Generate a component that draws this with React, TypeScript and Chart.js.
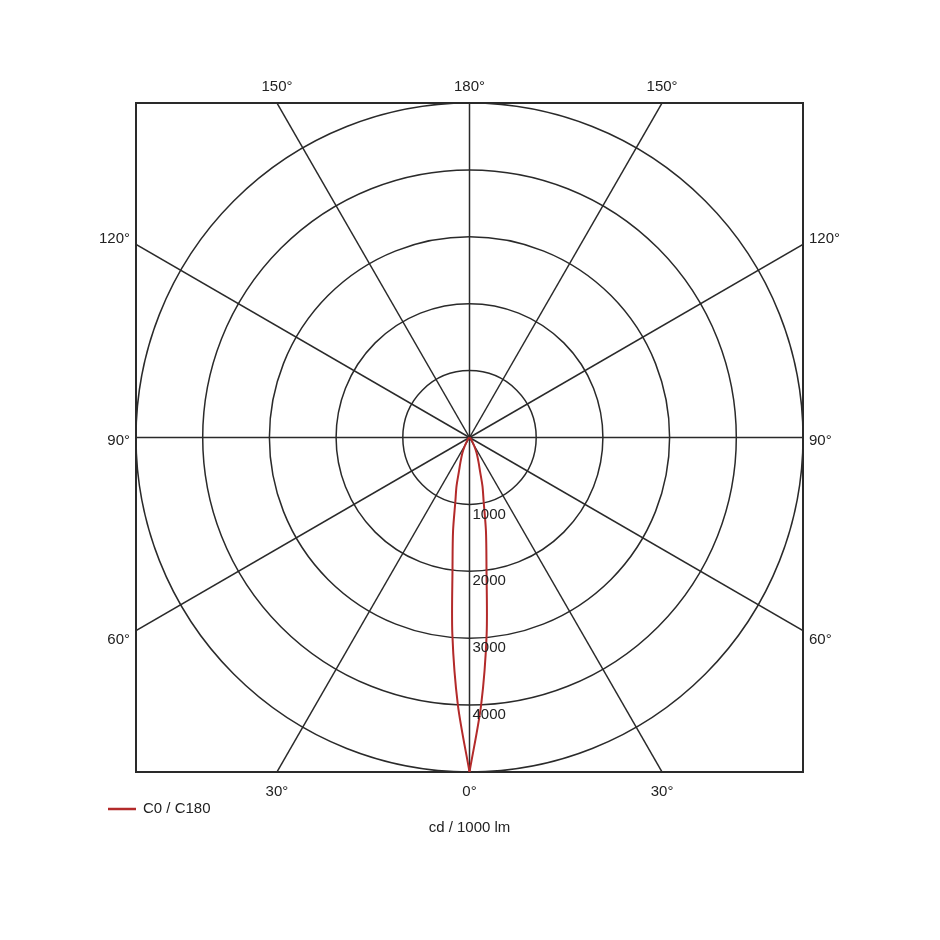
import React, { useEffect, useRef } from "react";
import { Chart, registerables } from "chart.js";

Chart.register(...registerables);

// Gamma angles (degrees from nadir) and luminous intensity (cd / 1000 lm)
const gammaAngles = [0, 2.5, 5, 7.5, 10, 12.5, 15, 17.5, 20, 25, 30, 35, 40, 50, 60, 70, 80, 90];
const intensityC0 = [5000, 4000, 2950, 1950, 1420, 980, 750, 520, 400, 250, 130, 70, 40, 15, 5, 0, 0, 0];
const intensityC180 = [5000, 4000, 2950, 1950, 1420, 980, 750, 520, 400, 250, 130, 70, 40, 15, 5, 0, 0, 0];

const ringValues = [1000, 2000, 3000, 4000, 5000];
const ringLabels = ["1000", "2000", "3000", "4000"];
const maxValue = 5000;

// spokes: gamma angle, side (-1 = C180 left, +1 = C0 right), label
const spokeGammas = [0, 30, 60, 90, 120, 150, 180, 30, 60, 90, 120, 150];
const spokeSides = [1, 1, 1, 1, 1, 1, 1, -1, -1, -1, -1, -1];
const spokeLabels = ["0°", "30°", "60°", "90°", "120°", "150°", "180°", "30°", "60°", "90°", "120°", "150°"];

const seriesLabel = "C0 / C180";
const unitLabel = "cd / 1000 lm";

const RED = "#b32a2a";
const GRID = "#2a2a2a";
const TEXT = "#222222";
const FONT = "15px 'Liberation Sans', Arial, sans-serif";

const toRad = (d: number) => (d * Math.PI) / 180;

function halfCurve(side: number, values: number[]) {
  // from center (90°) down to the nadir tip (0°)
  const pts: { x: number; y: number }[] = [];
  for (let i = gammaAngles.length - 1; i >= 0; i--) {
    const g = toRad(gammaAngles[i]);
    const r = values[i];
    pts.push({ x: side * r * Math.sin(g), y: -r * Math.cos(g) });
  }
  return pts;
}

const polarGrid = {
  id: "polarGrid",
  beforeDatasetsDraw(chart: any) {
    const { ctx, chartArea, scales } = chart;
    const xs = scales.x;
    const ys = scales.y;
    const cx = xs.getPixelForValue(0);
    const cy = ys.getPixelForValue(0);
    ctx.save();
    ctx.beginPath();
    ctx.rect(chartArea.left, chartArea.top, chartArea.right - chartArea.left, chartArea.bottom - chartArea.top);
    ctx.clip();
    ctx.strokeStyle = GRID;
    ctx.lineWidth = 1.5;
    ringValues.forEach((r) => {
      const rx = Math.abs(xs.getPixelForValue(r) - cx);
      const ry = Math.abs(ys.getPixelForValue(r) - cy);
      ctx.beginPath();
      ctx.ellipse(cx, cy, rx, ry, 0, 0, Math.PI * 2);
      ctx.stroke();
    });
    spokeGammas.forEach((gDeg, i) => {
      const g = toRad(gDeg);
      const side = spokeSides[i];
      const far = maxValue * 3;
      const px = xs.getPixelForValue(side * far * Math.sin(g));
      const py = ys.getPixelForValue(-far * Math.cos(g));
      ctx.beginPath();
      ctx.moveTo(cx, cy);
      ctx.lineTo(px, py);
      ctx.stroke();
    });
    ctx.restore();

    ctx.save();
    ctx.strokeStyle = GRID;
    ctx.lineWidth = 2;
    ctx.strokeRect(chartArea.left, chartArea.top, chartArea.right - chartArea.left, chartArea.bottom - chartArea.top);
    ctx.restore();
  },
  afterDraw(chart: any) {
    const { ctx, chartArea, scales } = chart;
    const xs = scales.x;
    const ys = scales.y;
    const cx = xs.getPixelForValue(0);
    ctx.save();
    ctx.font = FONT;
    ctx.fillStyle = TEXT;

    // ring value labels
    ctx.textAlign = "left";
    ctx.textBaseline = "middle";
    ringLabels.forEach((lab, i) => {
      const y = ys.getPixelForValue(-ringValues[i]);
      ctx.fillText(lab, cx + 3, y + 10);
    });

    // angle labels at frame
    spokeGammas.forEach((gDeg, i) => {
      const g = toRad(gDeg);
      const side = spokeSides[i];
      const dx = side * Math.sin(g);
      const dy = -Math.cos(g);
      const t = maxValue / Math.max(Math.abs(dx), Math.abs(dy));
      const px = xs.getPixelForValue(dx * t);
      const py = ys.getPixelForValue(dy * t);
      if (Math.abs(dy) >= Math.abs(dx) - 1e-9 && Math.abs(dx) < 0.99) {
        ctx.textAlign = "center";
        ctx.textBaseline = "middle";
        const y = dy < 0 ? chartArea.bottom + 20 : chartArea.top - 16;
        ctx.fillText(spokeLabels[i], px, y);
      } else {
        ctx.textBaseline = "middle";
        const off = Math.abs(dy) < 1e-6 ? 3 : dy < 0 ? 9 : -6;
        if (side < 0) {
          ctx.textAlign = "right";
          ctx.fillText(spokeLabels[i], chartArea.left - 6, py + off);
        } else {
          ctx.textAlign = "left";
          ctx.fillText(spokeLabels[i], chartArea.right + 6, py + off);
        }
      }
    });

    // legend
    ctx.strokeStyle = RED;
    ctx.lineWidth = 2.5;
    ctx.beginPath();
    ctx.moveTo(100, 801);
    ctx.lineTo(128, 801);
    ctx.stroke();
    ctx.textAlign = "left";
    ctx.textBaseline = "middle";
    ctx.fillText(seriesLabel, 135, 801);

    // unit
    ctx.textAlign = "center";
    ctx.fillText(unitLabel, cx, 820);
    ctx.restore();
  },
};

export default function App() {
  const ref = useRef<HTMLCanvasElement | null>(null);
  useEffect(() => {
    if (!ref.current) return;
    const chart = new Chart(ref.current, {
      type: "scatter",
      data: {
        datasets: [
          {
            label: "C0",
            data: halfCurve(1, intensityC0),
            showLine: true,
            borderColor: RED,
            borderWidth: 2,
            pointRadius: 0,
            tension: 0.3,
          },
          {
            label: "C180",
            data: halfCurve(-1, intensityC180),
            showLine: true,
            borderColor: RED,
            borderWidth: 2,
            pointRadius: 0,
            tension: 0.3,
          },
        ],
      },
      options: {
        responsive: false,
        animation: false,
        layout: { padding: { left: 128, top: 95, right: 129, bottom: 160 } },
        scales: {
          x: { type: "linear", min: -maxValue, max: maxValue, display: false },
          y: { type: "linear", min: -maxValue, max: maxValue, display: false },
        },
        plugins: {
          legend: { display: false },
          tooltip: { enabled: false },
        },
      },
      plugins: [polarGrid],
    });
    return () => chart.destroy();
  }, []);
  return (
    <div style={{ width: 924, height: 924 }}>
      <canvas ref={ref} width={924} height={924} />
    </div>
  );
}
